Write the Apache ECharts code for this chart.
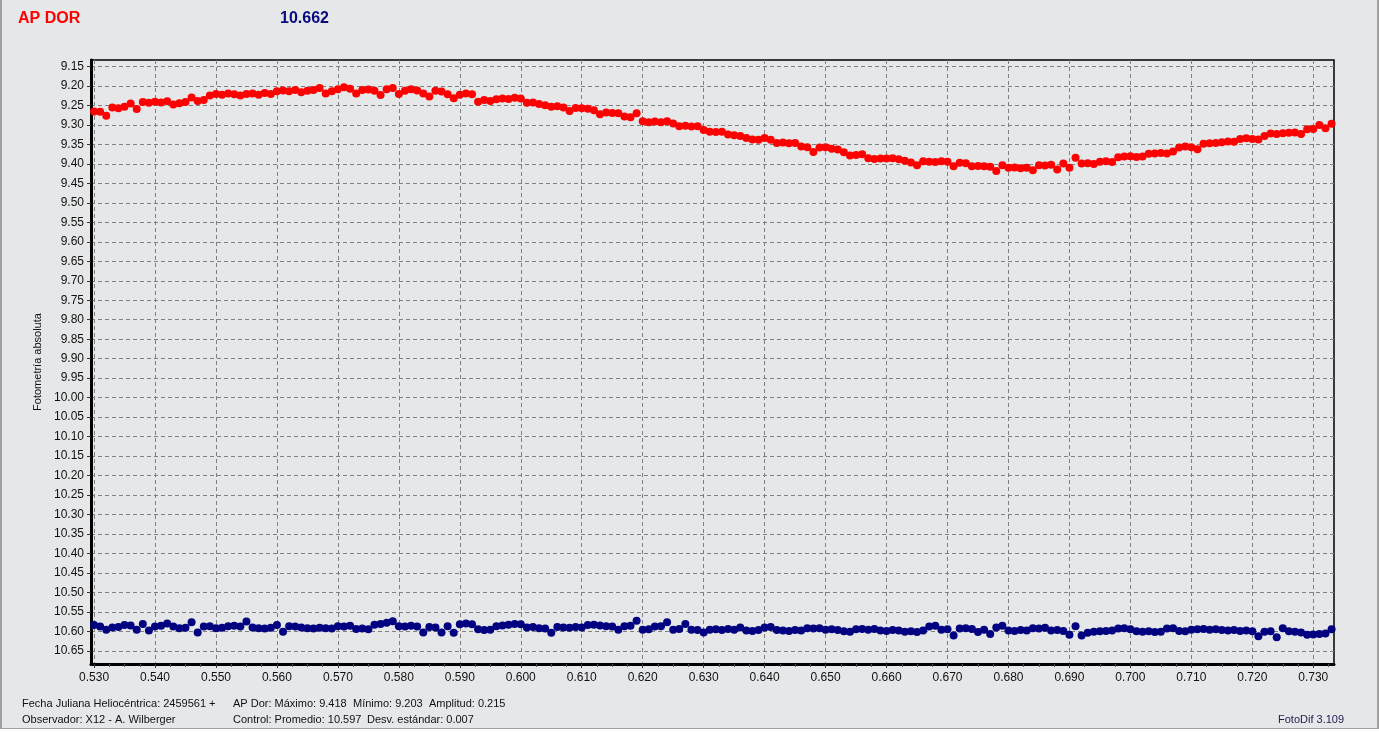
<!DOCTYPE html>
<html><head><meta charset="utf-8">
<script src="https://cdn.jsdelivr.net/npm/echarts@6/dist/echarts.min.js"></script>
<style>
html,body{margin:0;padding:0;background:#ffffff;overflow:hidden;}
#frame{position:absolute;left:0;top:0;width:1375px;height:728px;background:#e6e7e9;border-left:2px solid #a0a0a0;border-right:2px solid #a0a0a0;border-bottom:1px solid #a0a0a0;}
#chart{position:absolute;left:0;top:0;width:1379px;height:732px;}
</style></head><body>
<div id="frame"></div><div id="chart"></div>
<script>
// Sampling grid (heliocentric JD fraction)
const jdStart = 0.530;
const jdStep = 0.001;

// AP Dor magnitudes, one per sample from 0.530 to 0.733
const apDor = [
9.265,9.266,9.276,9.255,9.257,9.253,9.245,9.259,9.241,9.243,
9.240,9.242,9.239,9.247,9.244,9.241,9.229,9.238,9.236,9.224,
9.220,9.222,9.219,9.221,9.224,9.220,9.219,9.222,9.218,9.220,
9.213,9.211,9.213,9.210,9.216,9.212,9.210,9.205,9.219,9.213,
9.208,9.203,9.207,9.219,9.210,9.209,9.212,9.223,9.208,9.205,
9.220,9.212,9.208,9.211,9.219,9.227,9.212,9.214,9.221,9.231,
9.222,9.219,9.221,9.240,9.236,9.238,9.234,9.232,9.233,9.230,
9.232,9.243,9.242,9.246,9.249,9.253,9.252,9.255,9.264,9.256,
9.257,9.258,9.262,9.272,9.268,9.269,9.270,9.278,9.280,9.270,
9.290,9.293,9.291,9.293,9.290,9.296,9.303,9.302,9.304,9.303,
9.313,9.317,9.318,9.317,9.324,9.326,9.328,9.333,9.337,9.338,
9.333,9.338,9.346,9.345,9.347,9.346,9.355,9.357,9.369,9.358,
9.357,9.361,9.363,9.370,9.378,9.377,9.375,9.385,9.387,9.386,
9.386,9.385,9.388,9.392,9.396,9.403,9.393,9.394,9.395,9.393,
9.394,9.406,9.397,9.398,9.406,9.405,9.406,9.407,9.418,9.403,
9.410,9.409,9.411,9.410,9.416,9.403,9.404,9.402,9.414,9.399,
9.410,9.384,9.399,9.398,9.400,9.394,9.393,9.395,9.383,9.381,
9.380,9.382,9.381,9.374,9.373,9.372,9.373,9.368,9.358,9.355,
9.357,9.362,9.348,9.347,9.346,9.344,9.342,9.343,9.336,9.334,
9.336,9.337,9.328,9.322,9.323,9.321,9.320,9.319,9.323,9.311,
9.310,9.300,9.308,9.297
];

// Control star magnitudes, same samples
const control = [
10.584,10.588,10.596,10.590,10.589,10.584,10.585,10.596,10.581,10.598,
10.588,10.586,10.580,10.588,10.592,10.591,10.577,10.603,10.588,10.587,
10.592,10.591,10.587,10.586,10.588,10.575,10.590,10.592,10.593,10.591,
10.584,10.601,10.587,10.588,10.590,10.592,10.593,10.591,10.592,10.593,
10.587,10.588,10.586,10.594,10.593,10.595,10.583,10.581,10.578,10.574,
10.587,10.588,10.586,10.588,10.603,10.589,10.590,10.603,10.587,10.604,
10.582,10.580,10.582,10.595,10.597,10.596,10.587,10.585,10.583,10.581,
10.582,10.590,10.589,10.592,10.593,10.604,10.589,10.590,10.591,10.589,
10.590,10.584,10.583,10.585,10.587,10.588,10.596,10.587,10.586,10.573,
10.596,10.595,10.588,10.587,10.577,10.596,10.594,10.581,10.596,10.597,
10.603,10.596,10.595,10.597,10.594,10.596,10.590,10.598,10.599,10.597,
10.590,10.589,10.597,10.598,10.599,10.597,10.598,10.592,10.593,10.592,
10.596,10.595,10.597,10.600,10.601,10.595,10.594,10.596,10.594,10.598,
10.599,10.597,10.598,10.601,10.600,10.602,10.598,10.588,10.586,10.596,
10.595,10.611,10.593,10.592,10.594,10.602,10.596,10.607,10.590,10.586,
10.598,10.599,10.597,10.598,10.592,10.593,10.591,10.598,10.597,10.599,
10.609,10.587,10.611,10.604,10.601,10.600,10.599,10.598,10.593,10.592,
10.595,10.600,10.601,10.600,10.602,10.601,10.593,10.592,10.599,10.600,
10.596,10.595,10.594,10.596,10.595,10.597,10.598,10.597,10.599,10.598,
10.600,10.613,10.601,10.600,10.615,10.592,10.600,10.601,10.603,10.609,
10.608,10.607,10.606,10.595
];

// Tick labels
const xTicks = [0.530,0.540,0.550,0.560,0.570,0.580,0.590,0.600,0.610,0.620,0.630,0.640,0.650,0.660,0.670,0.680,0.690,0.700,0.710,0.720,0.730];
const xMinorTicks = [0.5325,0.535,0.5375,0.5425,0.545,0.5475,0.5525,0.555,0.5575,0.5625,0.565,0.5675,0.5725,0.575,0.5775,0.5825,0.585,0.5875,0.5925,0.595,0.5975,0.6025,0.605,0.6075,0.6125,0.615,0.6175,0.6225,0.625,0.6275,0.6325,0.635,0.6375,0.6425,0.645,0.6475,0.6525,0.655,0.6575,0.6625,0.665,0.6675,0.6725,0.675,0.6775,0.6825,0.685,0.6875,0.6925,0.695,0.6975,0.7025,0.705,0.7075,0.7125,0.715,0.7175,0.7225,0.725,0.7275,0.7325];
const yTicks = [9.15,9.20,9.25,9.30,9.35,9.40,9.45,9.50,9.55,9.60,9.65,9.70,9.75,9.80,9.85,9.90,9.95,10.00,10.05,10.10,10.15,10.20,10.25,10.30,10.35,10.40,10.45,10.50,10.55,10.60,10.65];

const toPairs = arr => arr.map((v, i) => [+(jdStart + i * jdStep).toFixed(4), v]);

const FONT = '"Liberation Sans", Arial, sans-serif';
const chart = echarts.init(document.getElementById('chart'), null, {renderer: 'canvas'});
const dash = {type: [4, 3], color: '#808080', width: 1};

chart.setOption({
  animation: false,
  backgroundColor: 'transparent',
  textStyle: {fontFamily: FONT},
  grid: {left: 91, top: 60, right: 45, bottom: 68, show: true, borderColor: '#000', borderWidth: 1.5, backgroundColor: 'transparent'},
  xAxis: [{
    type: 'value', position: 'bottom', min: 0.5295, max: 0.7334,
    axisLine: {show: true, onZero: false, lineStyle: {color: '#000', width: 3}},
    axisTick: {show: true, customValues: xTicks, length: 4, lineStyle: {color: '#333'}},
    axisLabel: {customValues: xTicks, formatter: v => v.toFixed(3), color: '#111', fontSize: 12, fontFamily: FONT, margin: 8},
    splitLine: {show: true, lineStyle: dash}
  }, {
    type: 'value', position: 'bottom', min: 0.5295, max: 0.7334,
    axisLine: {show: false, onZero: false},
    axisTick: {show: true, customValues: xMinorTicks, length: 3, lineStyle: {color: '#555'}},
    axisLabel: {show: false},
    splitLine: {show: false}
  }],
  yAxis: {
    type: 'value', inverse: true, min: 9.133, max: 10.684,
    axisLine: {show: true, onZero: false, lineStyle: {color: '#000', width: 3}},
    axisTick: {show: true, customValues: yTicks, length: 4, lineStyle: {color: '#333'}},
    axisLabel: {customValues: yTicks, formatter: v => v.toFixed(2), color: '#111', fontSize: 12, fontFamily: FONT, margin: 7},
    splitLine: {show: true, lineStyle: dash}
  },
  graphic: [
    {type: 'text', left: 18, top: 11, style: {text: 'AP DOR', font: 'bold 16px ' + FONT, fill: '#ff0000'}},
    {type: 'text', left: 280, top: 11, style: {text: '10.662', font: 'bold 16px ' + FONT, fill: '#0a0a80'}},
    {type: 'text', x: 38, y: 362, rotation: Math.PI / 2, style: {text: 'Fotometría absoluta', font: '11px ' + FONT, fill: '#111', textAlign: 'center', textVerticalAlign: 'middle'}},
    {type: 'text', x: 22, y: 704, style: {text: 'Fecha Juliana Heliocéntrica: 2459561 +', font: '11px ' + FONT, fill: '#111', textVerticalAlign: 'middle'}},
    {type: 'text', x: 22, y: 720, style: {text: 'Observador: X12 - A. Wilberger', font: '11px ' + FONT, fill: '#111', textVerticalAlign: 'middle'}},
    {type: 'text', x: 233, y: 704, style: {text: 'AP Dor: Máximo: 9.418', font: '11px ' + FONT, fill: '#111', textVerticalAlign: 'middle'}},
    {type: 'text', x: 353, y: 704, style: {text: 'Mínimo: 9.203', font: '11px ' + FONT, fill: '#111', textVerticalAlign: 'middle'}},
    {type: 'text', x: 429, y: 704, style: {text: 'Amplitud: 0.215', font: '11px ' + FONT, fill: '#111', textVerticalAlign: 'middle'}},
    {type: 'text', x: 233, y: 720, style: {text: 'Control: Promedio: 10.597', font: '11px ' + FONT, fill: '#111', textVerticalAlign: 'middle'}},
    {type: 'text', x: 367, y: 720, style: {text: 'Desv. estándar: 0.007', font: '11px ' + FONT, fill: '#111', textVerticalAlign: 'middle'}},
    {type: 'text', x: 1278, y: 720, style: {text: 'FotoDif 3.109', font: '11px ' + FONT, fill: '#1c1c50', textVerticalAlign: 'middle'}}
  ],
  series: [{
    name: 'AP Dor', type: 'scatter', xAxisIndex: 0, data: toPairs(apDor),
    symbol: 'circle', symbolSize: 8, itemStyle: {color: '#ff0000', opacity: 1}, silent: true
  }, {
    name: 'Control', type: 'scatter', xAxisIndex: 0, data: toPairs(control),
    symbol: 'circle', symbolSize: 8, itemStyle: {color: '#000080', opacity: 1}, silent: true
  }]
});
</script>
</body></html>
